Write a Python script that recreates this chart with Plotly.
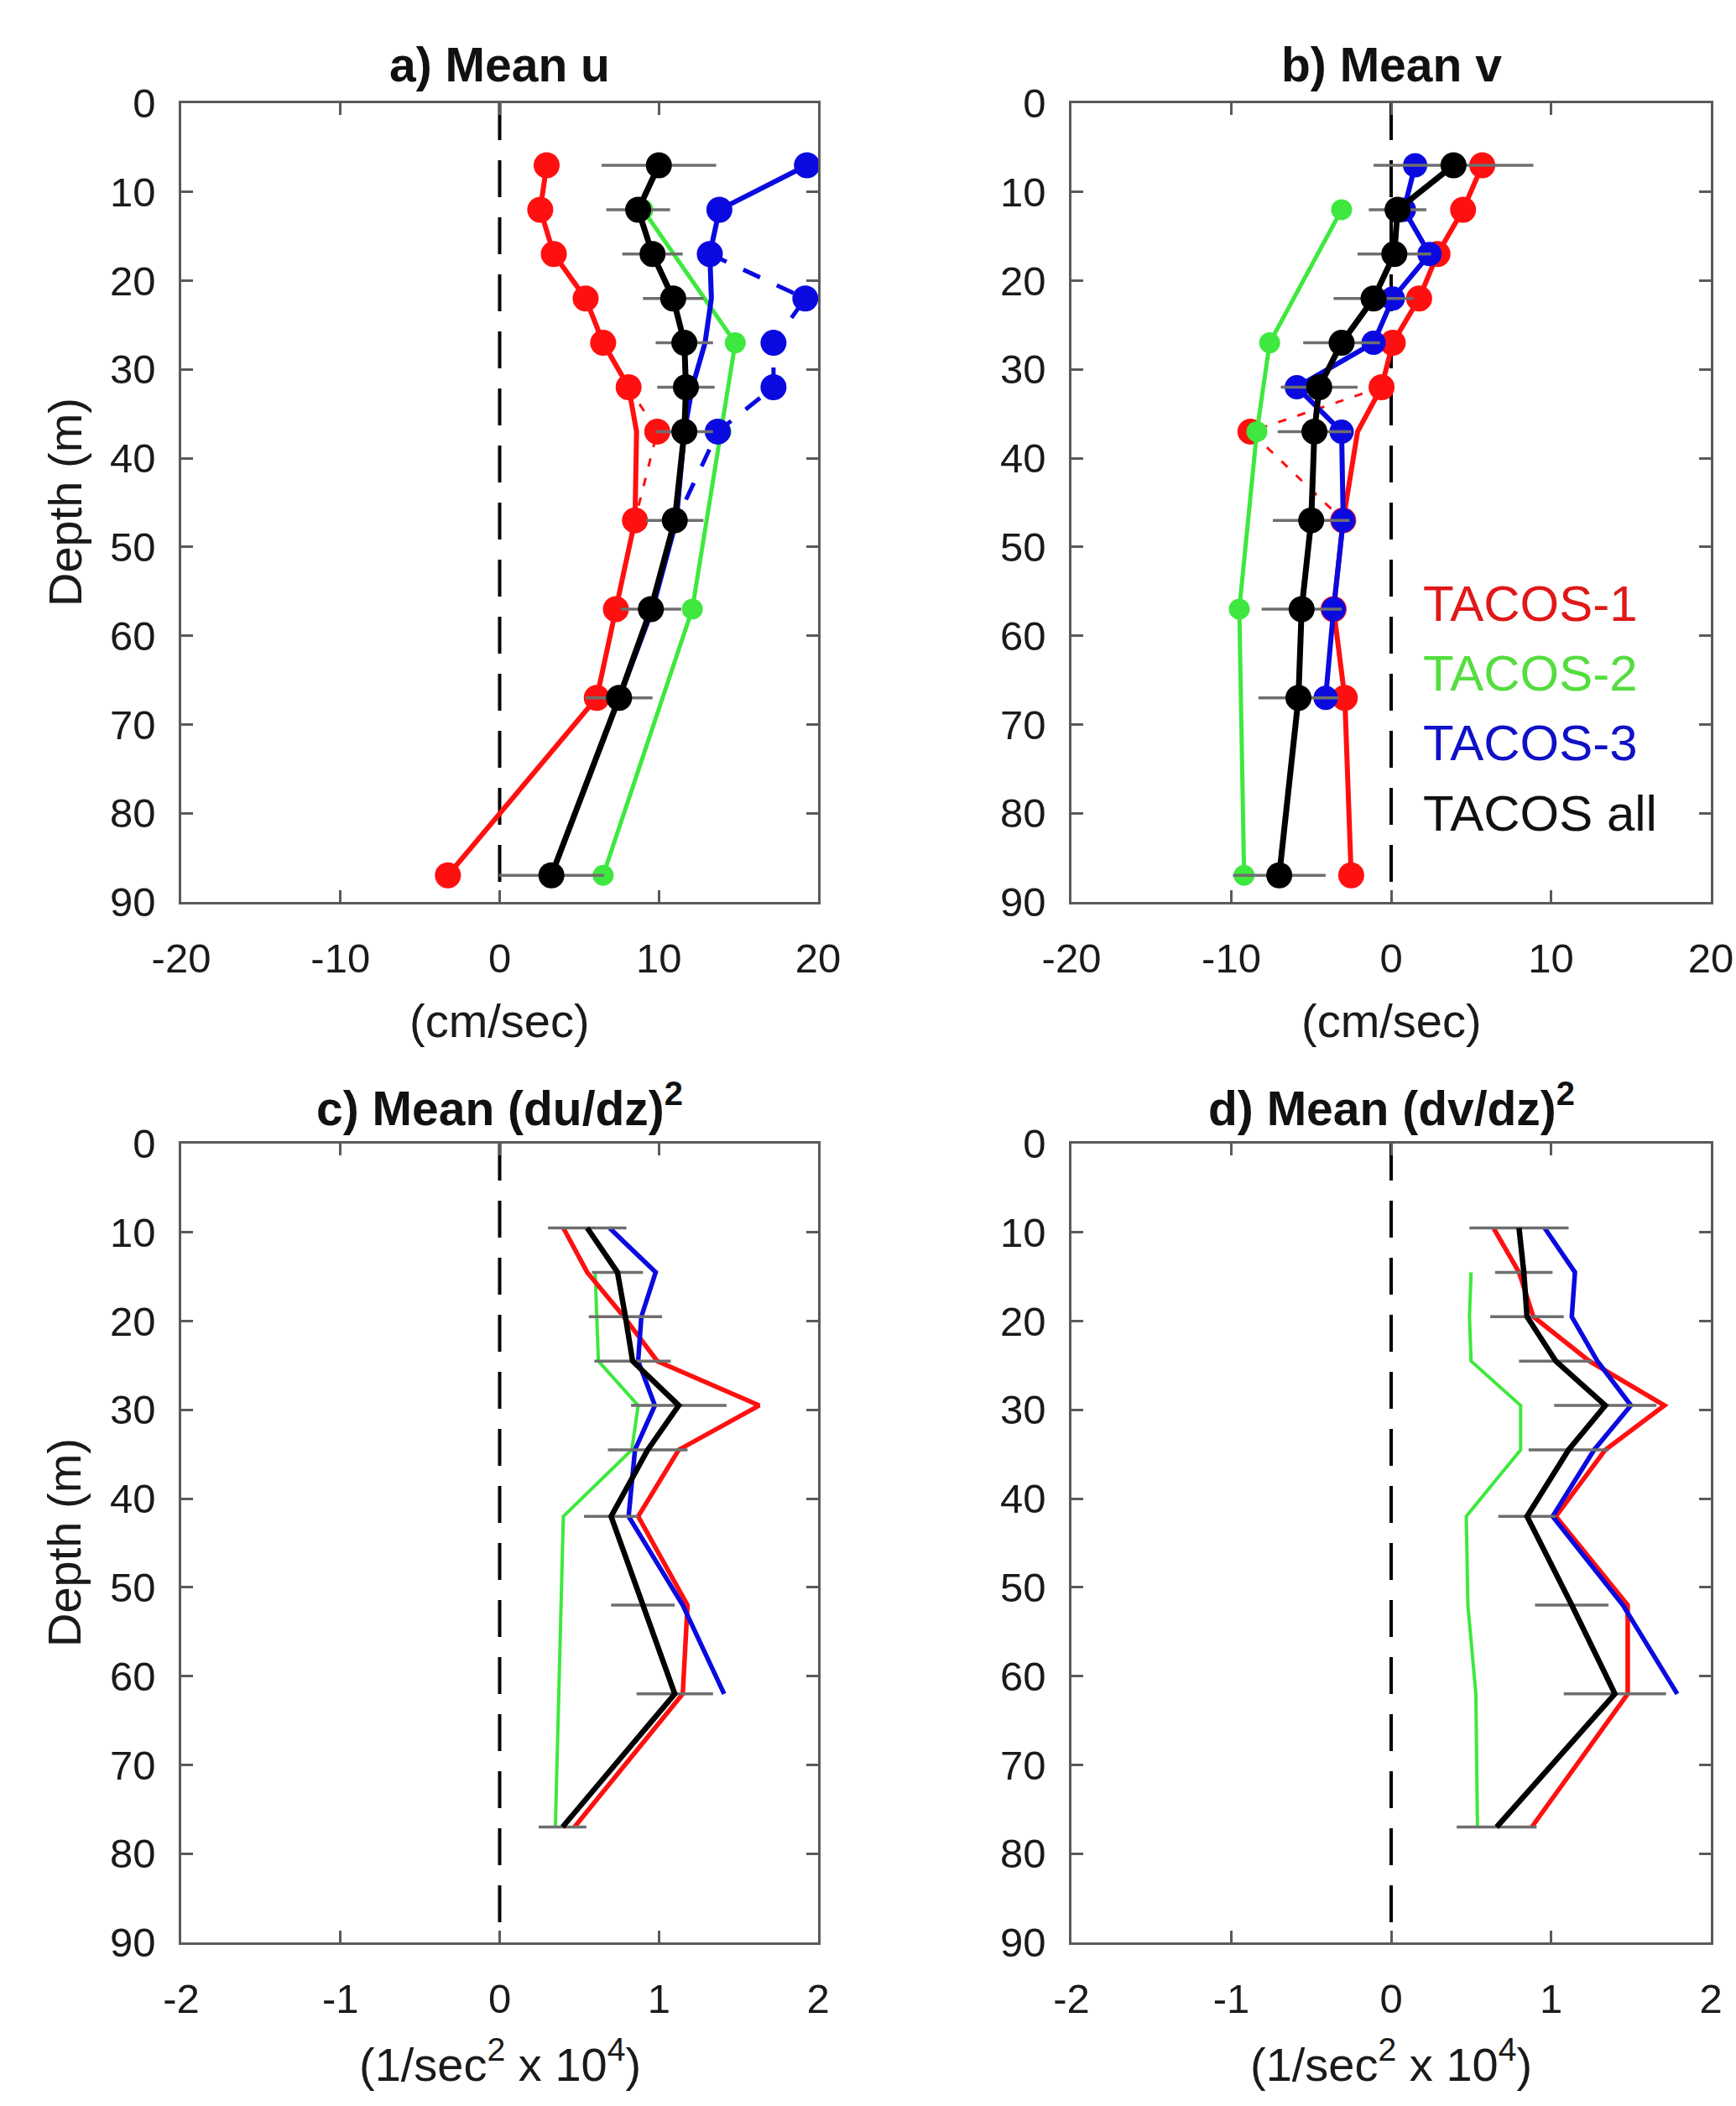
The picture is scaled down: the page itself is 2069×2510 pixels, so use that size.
import plotly.graph_objects as go

# ---------------- data ----------------
DEPTH_UV = [7, 12, 17, 22, 27, 32, 37, 47, 57, 67, 87]
DEPTH_DASH = [32, 37, 47]
DEPTH_GREEN = [12, 27, 37, 57, 87]
DEPTH_U3_PTS = [7, 12, 17, 22, 27, 32, 37]
DEPTH_U3_LINE = [7, 12, 17, 22, 27, 32, 37, 47, 57, 67]
DEPTH_U3_DASH = [17, 22, 27, 32, 37, 47]
DEPTH_V3 = [7, 12, 17, 22, 27, 32, 37, 47, 57, 67]

# a) mean u (cm/s)
U1_PTS = [2.95, 2.55, 3.4, 5.4, 6.5, 8.1, 9.9, 8.5, 7.3, 6.1, -3.25]
U1_LINE = [2.95, 2.55, 3.4, 5.4, 6.5, 8.1, 8.6, 8.5, 7.3, 6.1, -3.25]
U1_DASH = [8.1, 9.9, 8.5]
U2 = [9.0, 14.8, 13.9, 12.1, 6.5]
U3_PTS = [19.3, 13.8, 13.2, 19.2, 17.2, 17.2, 13.7]
U3_LINE = [19.3, 13.8, 13.2, 13.3, 12.9, 12.1, 11.6, 11.1, 9.6, 7.5]
U3_DASH = [13.2, 19.2, 17.2, 17.2, 13.7, 11.1]
UALL = [10.0, 8.7, 9.6, 10.9, 11.6, 11.7, 11.6, 11.0, 9.5, 7.5, 3.25]
UALL_ERR = [3.6, 2.0, 1.9, 1.9, 1.8, 1.8, 1.8, 1.8, 1.9, 2.1, 3.3]

# b) mean v (cm/s)
V1_PTS = [5.7, 4.5, 2.9, 1.75, 0.1, -0.6, -8.8, -3.0, -3.6, -2.9, -2.5]
V1_LINE = [5.7, 4.5, 2.9, 1.75, 0.1, -0.6, -2.1, -3.0, -3.6, -2.9, -2.5]
V1_DASH = [-0.6, -8.8, -3.0]
V2 = [-3.1, -7.6, -8.4, -9.5, -9.2]
V3 = [1.5, 0.8, 2.4, 0.1, -1.1, -5.9, -3.1, -3.0, -3.6, -4.1]
VALL = [3.9, 0.4, 0.2, -1.1, -3.1, -4.5, -4.8, -5.0, -5.6, -5.8, -7.0]
VALL_ERR = [5.0, 1.8, 2.3, 2.5, 2.4, 2.4, 2.3, 2.4, 2.5, 2.5, 2.9]

# c), d) mean shear squared (1/s^2 x 1e4)
DEPTH_SH = [9.5, 14.5, 19.5, 24.5, 29.5, 34.5, 42, 52, 62, 77]
DEPTH_SH_GREEN = [14.5, 19.5, 24.5, 29.5, 34.5, 42, 52, 62, 77]
DEPTH_SH_BLUE = [9.5, 14.5, 19.5, 24.5, 29.5, 34.5, 42, 52, 62]

DU1 = [0.40, 0.55, 0.78, 0.99, 1.63, 1.125, 0.87, 1.18, 1.15, 0.47]
DU2 = [0.60, 0.61, 0.62, 0.87, 0.83, 0.40, 0.387, 0.37, 0.35]
DU3 = [0.69, 0.98, 0.89, 0.87, 0.975, 0.85, 0.81, 1.15, 1.41]
DUALL = [0.55, 0.74, 0.79, 0.835, 1.125, 0.93, 0.70, 0.90, 1.10, 0.395]
DUALL_ERR = [0.246, 0.16, 0.23, 0.24, 0.30, 0.25, 0.17, 0.20, 0.24, 0.15]

DV1 = [0.64, 0.80, 0.89, 1.24, 1.71, 1.34, 1.03, 1.48, 1.48, 0.88]
DV2 = [0.50, 0.49, 0.50, 0.81, 0.81, 0.47, 0.48, 0.53, 0.54]
DV3 = [0.96, 1.15, 1.13, 1.29, 1.50, 1.27, 1.01, 1.45, 1.79]
DVALL = [0.80, 0.83, 0.85, 1.03, 1.34, 1.11, 0.85, 1.13, 1.40, 0.66]
DVALL_ERR = [0.31, 0.18, 0.23, 0.23, 0.32, 0.25, 0.18, 0.23, 0.32, 0.25]

ZERO_X = [0, 0]
ZERO_Y = [0, 90]

X_TICKS_TOP = [-20, -10, 0, 10, 20]
X_TICKTEXT_TOP = ["-20", "-10", "0", "10", "20"]
X_TICKS_BOT = [-2, -1, 0, 1, 2]
X_TICKTEXT_BOT = ["-2", "-1", "0", "1", "2"]
Y_TICKS = [0, 10, 20, 30, 40, 50, 60, 70, 80, 90]

TITLES = ["<b>a) Mean u</b>", "<b>b) Mean v</b>",
          "<b>c) Mean (du/dz)<sup>2</sup></b>", "<b>d) Mean (dv/dz)<sup>2</sup></b>"]
XLABEL_TOP = "(cm/sec)"
XLABEL_BOT = "(1/sec<sup>2</sup> x 10<sup>4</sup>)"
YLABEL = "Depth (m)"
LEGEND = ["TACOS-1", "TACOS-2", "TACOS-3", "TACOS all"]

# ---------------- styles ----------------
RED = "#ff1010"
GREEN = "#3ee83e"
BLUE = "#0a0ae0"
BLACK = "#000000"
ERRC = "#6e6e6e"
FONT = "Liberation Sans, Arial, Helvetica, sans-serif"
W, H = 2069, 2510

fig = go.Figure()


def ax(n):
    return ("x" if n == 1 else f"x{n}"), ("y" if n == 1 else f"y{n}")


def line(n, x, y, color, width, dash="solid", mode="lines", msize=0):
    xa, ya = ax(n)
    fig.add_trace(go.Scatter(
        x=x, y=y, xaxis=xa, yaxis=ya, mode=mode,
        line=dict(color=color, width=width, dash=dash),
        marker=dict(color=color, size=msize, line=dict(width=0)),
        showlegend=False, hoverinfo="skip"))


def zero(n):
    line(n, ZERO_X, ZERO_Y, BLACK, 4, dash="44px,24px")


def errline(n, x, y, err, color, width, msize=0):
    xa, ya = ax(n)
    fig.add_trace(go.Scatter(
        x=x, y=y, xaxis=xa, yaxis=ya,
        mode="lines+markers" if msize else "lines",
        line=dict(color=color, width=width),
        marker=dict(color=color, size=msize, line=dict(width=0)),
        error_x=dict(type="data", array=err, color=ERRC, thickness=3.5, width=0),
        showlegend=False, hoverinfo="skip"))


# ---- panel a ----
zero(1)
line(1, U1_DASH, DEPTH_DASH, RED, 3, dash="10px,14px")
line(1, U1_LINE, DEPTH_UV, RED, 6)
line(1, U1_PTS, DEPTH_UV, RED, 0, mode="markers", msize=31)
line(1, U2, DEPTH_GREEN, GREEN, 5, mode="lines+markers", msize=25)
line(1, U3_DASH, DEPTH_U3_DASH, BLUE, 5, dash="22px,22px")
line(1, U3_LINE, DEPTH_U3_LINE, BLUE, 6)
line(1, U3_PTS, DEPTH_U3_PTS, BLUE, 0, mode="markers", msize=31)
errline(1, UALL, DEPTH_UV, UALL_ERR, BLACK, 7, msize=31)

# ---- panel b ----
zero(2)
line(2, V1_DASH, DEPTH_DASH, RED, 3, dash="10px,14px")
line(2, V1_LINE, DEPTH_UV, RED, 6)
line(2, V1_PTS, DEPTH_UV, RED, 0, mode="markers", msize=31)
line(2, V3, DEPTH_V3, BLUE, 6, mode="lines+markers", msize=29)
line(2, V2, DEPTH_GREEN, GREEN, 5, mode="lines+markers", msize=25)
errline(2, VALL, DEPTH_UV, VALL_ERR, BLACK, 7, msize=31)

# ---- panel c ----
zero(3)
line(3, DU2, DEPTH_SH_GREEN, GREEN, 4)
line(3, DU1, DEPTH_SH, RED, 5.5)
line(3, DU3, DEPTH_SH_BLUE, BLUE, 5.5)
errline(3, DUALL, DEPTH_SH, DUALL_ERR, BLACK, 6.5)

# ---- panel d ----
zero(4)
line(4, DV2, DEPTH_SH_GREEN, GREEN, 4)
line(4, DV1, DEPTH_SH, RED, 5.5)
line(4, DV3, DEPTH_SH_BLUE, BLUE, 5.5)
errline(4, DVALL, DEPTH_SH, DVALL_ERR, BLACK, 6.5)

# ---------------- layout ----------------
def px_x(p):
    return p / W


def px_y(p):
    return 1 - p / H


XL = [216, 1277]
XR = [975, 2039]
YT = [123, 1363]
YB = [1075, 2315]

axis_common = dict(showline=True, mirror="allticks", linecolor="#5a5a5a", linewidth=2.5,
                   ticks="inside", ticklen=14, tickwidth=2.5, tickcolor="#5a5a5a",
                   showgrid=False, zeroline=False, automargin=False,
                   tickfont=dict(family=FONT, size=49, color="#1a1a1a"))

layout = dict(width=W, height=H, paper_bgcolor="white", plot_bgcolor="white",
              margin=dict(l=0, r=0, t=0, b=0, autoexpand=False), showlegend=False)

for n in range(1, 5):
    col = (n - 1) % 2
    row = (n - 1) // 2
    xk = "xaxis" if n == 1 else f"xaxis{n}"
    yk = "yaxis" if n == 1 else f"yaxis{n}"
    xa, ya = ax(n)
    if row == 0:
        xr, xt, xtt = [-20, 20], X_TICKS_TOP, X_TICKTEXT_TOP
    else:
        xr, xt, xtt = [-2, 2], X_TICKS_BOT, X_TICKTEXT_BOT
    layout[xk] = dict(axis_common, domain=[px_x(XL[col]), px_x(XR[col])], range=xr,
                      tickmode="array", tickvals=xt, ticktext=xtt, anchor=ya,
                      ticklabelstandoff=22)
    layout[yk] = dict(axis_common, domain=[px_y(YB[row]), px_y(YT[row])], range=[90, 0],
                      tickmode="array", tickvals=Y_TICKS, anchor=xa,
                      ticklabelstandoff=18)

ann = []
for n in range(4):
    col = n % 2
    row = n // 2
    cx = px_x((XL[col] + XR[col]) / 2)
    ann.append(dict(text=TITLES[n], x=cx, y=px_y([77, 1317][row]), xref="paper", yref="paper",
                    showarrow=False, xanchor="center", yanchor="middle",
                    font=dict(family=FONT, size=57, color="#111")))
    ann.append(dict(text=[XLABEL_TOP, XLABEL_BOT][row], x=cx, y=px_y([1216, 2456][row]),
                    xref="paper", yref="paper", showarrow=False, xanchor="center",
                    yanchor="middle", font=dict(family=FONT, size=56, color="#1a1a1a")))
for row in range(2):
    ann.append(dict(text=YLABEL, x=px_x(77), y=px_y((YT[row] + YB[row]) / 2),
                    xref="paper", yref="paper", showarrow=False, textangle=-90,
                    xanchor="center", yanchor="middle",
                    font=dict(family=FONT, size=56, color="#1a1a1a")))

LEG_COLORS = ["#e01818", "#55dd40", "#1010c8", "#111111"]
for i, (t, c) in enumerate(zip(LEGEND, LEG_COLORS)):
    ann.append(dict(text=t, x=px_x(1694), y=px_y(719 + 83.5 * i), xref="paper", yref="paper",
                    showarrow=False, xanchor="left", yanchor="middle",
                    font=dict(family=FONT, size=60, color=c)))

layout["annotations"] = ann
fig.update_layout(**layout)
fig.write_html("out.html",
               config={"displayModeBar": False},
               post_script="document.body.style.margin='0px';"
                           "document.documentElement.style.overflow='hidden';"
                           "document.body.style.overflow='hidden';")
